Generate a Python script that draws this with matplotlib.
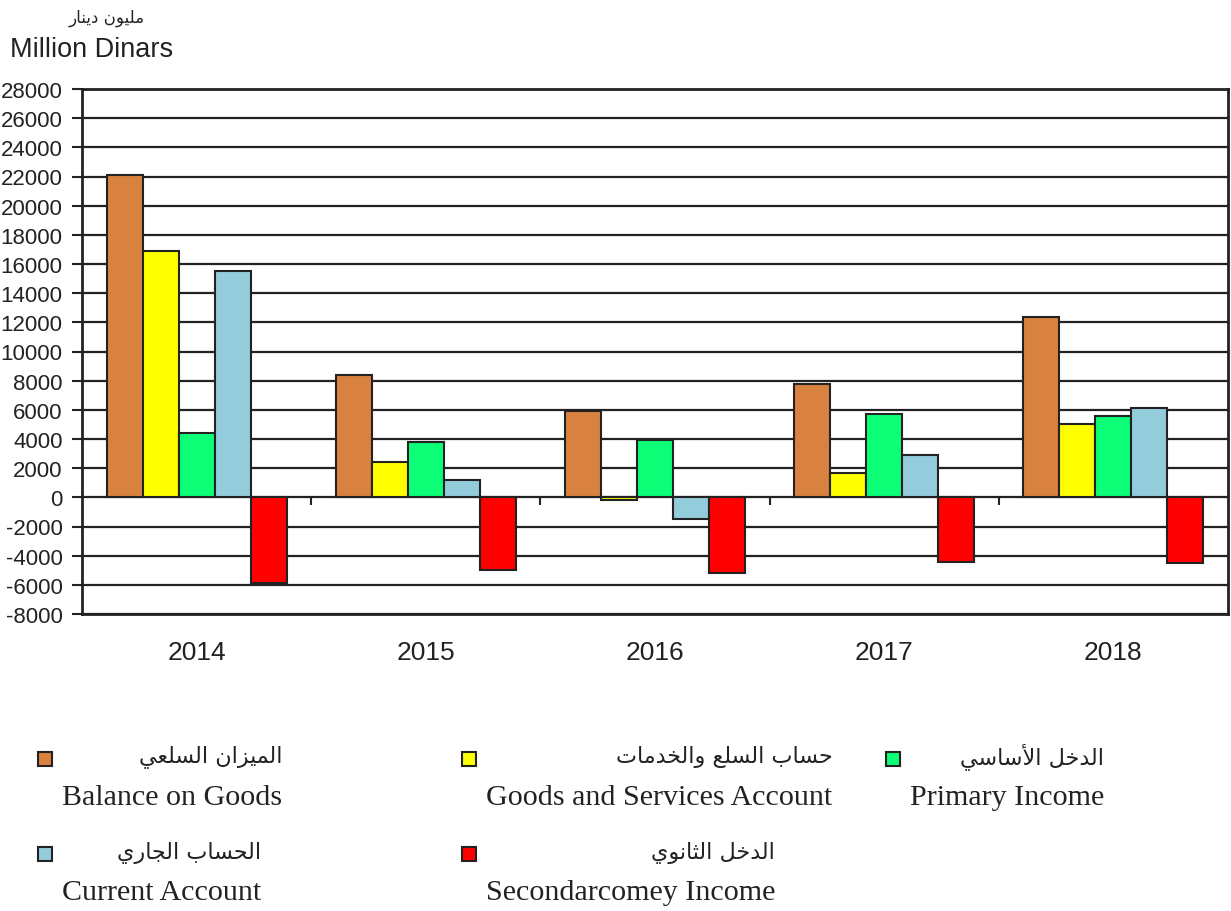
import matplotlib
matplotlib.use("Agg")
import matplotlib.pyplot as plt
from matplotlib.patches import Rectangle
import numpy as np

plt.rcParams["axes.unicode_minus"] = False

# data (million dinars)
years = ["2014", "2015", "2016", "2017", "2018"]
balance_goods = [22100, 8400, 5900, 7800, 12400]
goods_services = [16900, 2400, -200, 1700, 5000]
primary_income = [4400, 3800, 3900, 5700, 5600]
current_account = [15500, 1200, -1500, 2900, 6100]
secondary_income = [-5900, -5000, -5200, -4400, -4500]

series = [balance_goods, goods_services, primary_income, current_account, secondary_income]
colors = ["#D9823F", "#FFFF00", "#0DFF78", "#93CCDB", "#FF0000"]
labels_en = ["Balance on Goods", "Goods and Services Account", "Primary Income",
             "Current Account", "Secondarcomey Income"]
labels_ar = ["الميزان السلعي", "حساب السلع والخدمات", "الدخل الأساسي",
             "الحساب الجاري", "الدخل الثانوي"]

# simple arabic shaping (matplotlib has no complex text layout)
FORMS = {
    "ا": ("\uFE8D", "\uFE8E", None, None),
    "أ": ("\uFE83", "\uFE84", None, None),
    "ب": ("\uFE8F", "\uFE90", "\uFE91", "\uFE92"),
    "ت": ("\uFE95", "\uFE96", "\uFE97", "\uFE98"),
    "ث": ("\uFE99", "\uFE9A", "\uFE9B", "\uFE9C"),
    "ج": ("\uFE9D", "\uFE9E", "\uFE9F", "\uFEA0"),
    "ح": ("\uFEA1", "\uFEA2", "\uFEA3", "\uFEA4"),
    "خ": ("\uFEA5", "\uFEA6", "\uFEA7", "\uFEA8"),
    "د": ("\uFEA9", "\uFEAA", None, None),
    "ر": ("\uFEAD", "\uFEAE", None, None),
    "ز": ("\uFEAF", "\uFEB0", None, None),
    "س": ("\uFEB1", "\uFEB2", "\uFEB3", "\uFEB4"),
    "ع": ("\uFEC9", "\uFECA", "\uFECB", "\uFECC"),
    "ل": ("\uFEDD", "\uFEDE", "\uFEDF", "\uFEE0"),
    "م": ("\uFEE1", "\uFEE2", "\uFEE3", "\uFEE4"),
    "ن": ("\uFEE5", "\uFEE6", "\uFEE7", "\uFEE8"),
    "و": ("\uFEED", "\uFEEE", None, None),
    "ي": ("\uFEF1", "\uFEF2", "\uFEF3", "\uFEF4"),
}
LAM_ALEF = {"ا": ("\uFEFB", "\uFEFC"), "أ": ("\uFEF7", "\uFEF8")}


def dual(c):
    return c in FORMS and FORMS[c][2] is not None


def shape_arabic(text):
    out = []
    i = 0
    n = len(text)
    while i < n:
        c = text[i]
        if c not in FORMS:
            out.append(c)
            i += 1
            continue
        joins_prev = i > 0 and dual(text[i - 1])
        if c == "ل" and i + 1 < n and text[i + 1] in LAM_ALEF:
            out.append(LAM_ALEF[text[i + 1]][1 if joins_prev else 0])
            i += 2
            continue
        joins_next = dual(c) and i + 1 < n and text[i + 1] in FORMS
        iso, fin, ini, med = FORMS[c]
        if joins_prev and joins_next:
            out.append(med)
        elif joins_prev:
            out.append(fin)
        elif joins_next:
            out.append(ini)
        else:
            out.append(iso)
        i += 1
    return "".join(reversed(out))


W, H = 1231, 912
fig = plt.figure(figsize=(W / 100, H / 100), dpi=100)
ax = fig.add_axes([82 / W, 1 - 615 / H, (1228 - 82) / W, (615 - 90) / H])

x = np.arange(len(years))
bw = 0.157
for i, vals in enumerate(series):
    ax.bar(x + (i - 2) * bw, vals, bw, color=colors[i], edgecolor="#222222",
           linewidth=1.5, zorder=3)

ax.set_xlim(-0.5, len(years) - 0.5)
ax.set_ylim(-8000, 28000)
ax.set_yticks(np.arange(-8000, 28001, 2000))
ax.yaxis.grid(True, color="#222222", linewidth=1.6, zorder=1)
ax.set_axisbelow(True)
ax.tick_params(axis="y", length=7, width=1.5, color="#222222", pad=7,
               labelsize=16, labelcolor="#222222")
ax.set_xticks(x)
ax.set_xticklabels(years)
ax.tick_params(axis="x", length=0, pad=19, labelsize=19, labelcolor="#222222")
for lab in ax.get_xticklabels() + ax.get_yticklabels():
    lab.set_family("Liberation Sans")
for s in ax.spines.values():
    s.set_linewidth(2)
    s.set_color("#222222")

# small separators between the year groups on the zero line
ax.vlines(x[:-1] + 0.5, -550, 0, color="#222222", linewidth=1.5, zorder=2)

fig.text(145 / W, 1 - 18 / H, shape_arabic("مليون دينار"), ha="right", va="center",
         fontsize=12, family=["DejaVu Sans"], color="#222222")
fig.text(10 / W, 1 - 50 / H, "Million Dinars", ha="left", va="center",
         fontsize=19.5, family="Liberation Sans", color="#222222")

# legend built by hand: square, arabic line, english line
legend_pos = [(38, 0), (462, 0), (886, 0), (38, 1), (462, 1)]
row_sq = [760, 855]
row_ar = [757, 853]
row_en = [805, 900]
renderer = fig.canvas.get_renderer()
for i, (px, row) in enumerate(legend_pos):
    fig.patches.append(Rectangle((px / W, 1 - (row_sq[row] + 7) / H), 14 / W, 14 / H,
                                 transform=fig.transFigure, facecolor=colors[i],
                                 edgecolor="#222222", linewidth=1.5))
    t = fig.text((px + 24) / W, 1 - row_en[row] / H, labels_en[i], ha="left",
                 va="baseline", fontsize=21.6, family="Liberation Serif", color="#222222")
    bb = t.get_window_extent(renderer=renderer)
    fig.text(bb.x1 / W, 1 - row_ar[row] / H, shape_arabic(labels_ar[i]), ha="right",
             va="center", fontsize=16, family=["DejaVu Sans"], color="#222222")

fig.savefig("out.png", dpi=100)
